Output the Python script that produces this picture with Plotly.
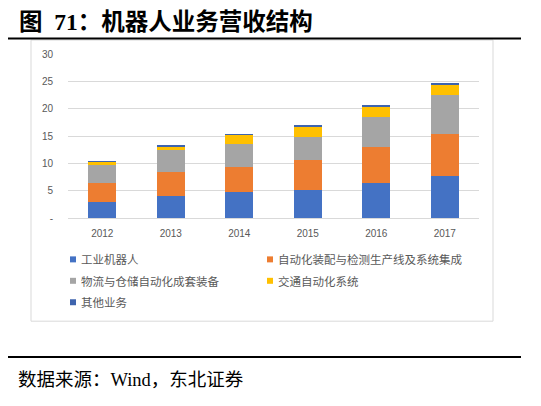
import plotly.graph_objects as go

years = ['2012', '2013', '2014', '2015', '2016', '2017']
robot = [2.95, 4.0, 4.7, 5.07, 6.42, 7.63]
integration = [3.5, 4.35, 4.55, 5.6, 6.6, 7.7]
logistics = [3.2, 4.0, 4.35, 4.1, 5.4, 7.15]
transport = [0.7, 0.65, 1.7, 1.95, 2.0, 2.0]
other = [0.05, 0.2, 0.05, 0.15, 0.1, 0.2]

series_names = ['工业机器人', '自动化装配与检测生产线及系统集成', '物流与仓储自动化成套装备',
                '交通自动化系统', '其他业务']
series_values = [robot, integration, logistics, transport, other]
colors = ['#4472C4', '#ED7D31', '#A5A5A5', '#FFC000', '#3E64AE']

y_ticks = [0, 5, 10, 15, 20, 25, 30]
y_ticktext = ['-', '5', '10', '15', '20', '25', '30']

# page body has an 8px margin: work in reference pixels and shift by OFF
OFF = 8
W, H = 541 - OFF, 406 - OFF
L, R, T, B = 68 - OFF, 479 - OFF, 54 - OFF, 218.5 - OFF
PW, PH = R - L, B - T


def px(x):
    return (x - OFF - L) / PW


def py(y):
    return (B - (y - OFF)) / PH


fig = go.Figure()
for name, vals, c in zip(series_names, series_values, colors):
    fig.add_trace(go.Bar(x=years, y=vals, name=name, marker_color=c,
                         marker_line_width=0, showlegend=False))

shapes = []
# outer chart frame
shapes.append(dict(type='rect', xref='paper', yref='paper', x0=px(31), x1=px(493),
                   y0=py(40), y1=py(322), line=dict(color='#D9D9D9', width=1),
                   fillcolor='rgba(0,0,0,0)', layer='below'))
# black rules
shapes.append(dict(type='line', xref='paper', yref='paper', x0=px(8), x1=px(521),
                   y0=py(38.5), y1=py(38.5), line=dict(color='black', width=2)))
shapes.append(dict(type='line', xref='paper', yref='paper', x0=px(8), x1=px(521),
                   y0=py(358), y1=py(358), line=dict(color='black', width=2)))

annotations = []
# legend (manual, two columns)
leg_pos = [(70, 260), (267, 260), (70, 281.5), (267, 281.5), (70, 303)]
for (lx, ly), name, c in zip(leg_pos, series_names, colors):
    shapes.append(dict(type='rect', xref='paper', yref='paper', x0=px(lx), x1=px(lx + 6),
                       y0=py(ly - 3), y1=py(ly + 3), line=dict(width=0), fillcolor=c))
    annotations.append(dict(xref='paper', yref='paper', x=px(lx + 9), y=py(ly), text=name,
                            showarrow=False, xanchor='left', yanchor='middle',
                            font=dict(family='Noto Sans CJK SC', size=11.5, color='#595959')))

# title
annotations.append(dict(xref='paper', yref='paper', x=px(17), y=py(22),
                        text='<b>图  71：机器人业务营收结构</b>', showarrow=False,
                        xanchor='left', yanchor='middle',
                        font=dict(family='Liberation Serif, Noto Sans CJK SC', size=23.5, color='black')))
# source
annotations.append(dict(xref='paper', yref='paper', x=px(16), y=py(381),
                        text='数据来源：Wind，东北证券', showarrow=False,
                        xanchor='left', yanchor='middle',
                        font=dict(family='Liberation Serif, Noto Sans CJK SC', size=18.5, color='black')))

fig.update_layout(
    width=W, height=H, autosize=False,
    margin=dict(l=L, r=W - R, t=T, b=H - B, pad=0),
    barmode='stack', bargap=0.59,
    paper_bgcolor='white', plot_bgcolor='white',
    shapes=shapes, annotations=annotations,
    showlegend=False,
    xaxis=dict(showline=True, linecolor='#D9D9D9', linewidth=1, ticks='',
               tickfont=dict(family='Liberation Sans', size=10, color='#595959'),
               ticklabelstandoff=6, fixedrange=True),
    yaxis=dict(range=[0, 30], tickvals=y_ticks, ticktext=y_ticktext,
               showgrid=True, gridcolor='#D9D9D9', gridwidth=1, zeroline=False,
               showline=False, ticks='',
               tickfont=dict(family='Liberation Sans', size=10, color='#595959'),
               ticklabelstandoff=14, fixedrange=True),
)

fig.write_html('out.html')
